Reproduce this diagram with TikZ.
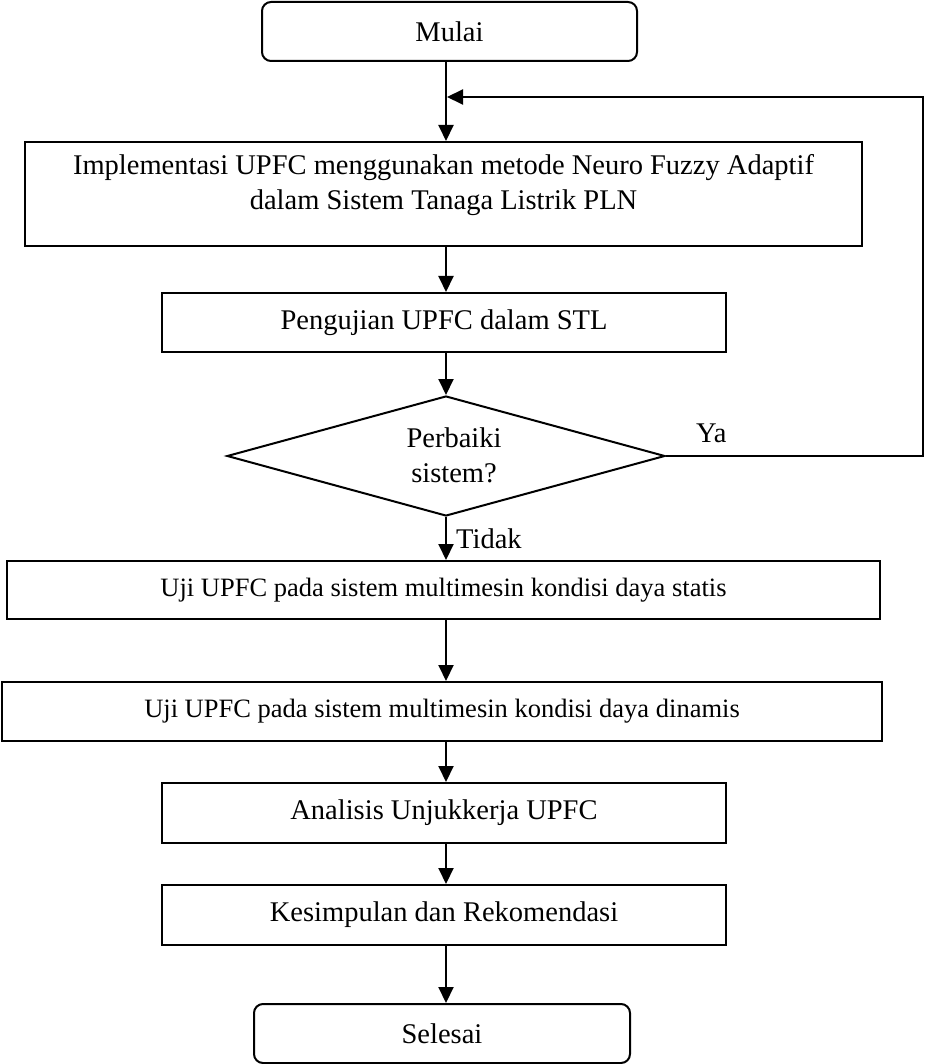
\documentclass[tikz,border=0pt]{standalone}
\usepackage{fontspec}
\setmainfont{Liberation Serif}
\usetikzlibrary{shapes.geometric,arrows.meta}
\newcommand\fsmain{\fontsize{28.5}{35}\selectfont}
\newcommand\fssmall{\fontsize{26.5}{32}\selectfont}
\tikzset{
  box/.style={draw, line width=2pt, inner sep=0pt, align=center, font=\fsmain},
  termbox/.style={box, rounded corners=9pt},
  decbox/.style={draw, line width=2pt, diamond, inner sep=0pt, aspect=3.65},
  arr/.style={line width=2pt, -{Triangle[length=16pt,width=15pt]}},
  lbl/.style={inner sep=0pt, font=\fsmain, anchor=base west},
}
\begin{document}
\begin{tikzpicture}[x=1pt,y=1pt]
\useasboundingbox (0,0) rectangle (925,-1064);
\fill[white] (0,0) rectangle (925,-1064);
\coordinate (spine) at (446,0);

\node[termbox, minimum width=375pt, minimum height=59pt] (mulai) at (449.5,-31.5) {Mulai};
\node[box, minimum width=837pt, minimum height=104pt] (impl) at (443.5,-194) {};
\node[inner sep=0pt, align=center, font=\fsmain] (impltxt) at ([yshift=9pt]impl.center)
  {Implementasi UPFC menggunakan metode Neuro Fuzzy Adaptif\\dalam Sistem Tanaga Listrik PLN};
\node[box, minimum width=564pt, minimum height=59pt] (uji) at (444,-322.5) {Pengujian UPFC dalam STL};
\node[decbox, minimum width=438pt, minimum height=120pt] (dec) at (446,-456) {};
\node[inner sep=0pt, align=center, font=\fsmain] (dectxt) at ([xshift=8pt,yshift=1pt]dec.center) {Perbaiki\\sistem?};
\node[box, font=\fssmall, minimum width=873pt, minimum height=58pt] (statis) at (443.5,-590) {Uji UPFC pada sistem multimesin kondisi daya statis};
\node[box, font=\fssmall, minimum width=880pt, minimum height=59pt] (dinamis) at (442,-711.5) {Uji UPFC pada sistem multimesin kondisi daya dinamis};
\node[box, minimum width=564pt, minimum height=60pt] (analisis) at (444,-813) {Analisis Unjukkerja UPFC};
\node[box, minimum width=564pt, minimum height=60pt] (kesimpulan) at (444,-915) {Kesimpulan dan Rekomendasi};
\node[termbox, minimum width=376pt, minimum height=59pt] (selesai) at (442,-1033.5) {Selesai};

\draw[arr] (mulai.south -| spine) -- (impl.north -| spine);
\draw[arr] (impl.south -| spine) -- (uji.north -| spine);
\draw[arr] (uji.south -| spine) -- (dec.north);
\draw[arr] (dec.south) -- (statis.north -| spine);
\draw[arr] (statis.south -| spine) -- (dinamis.north -| spine);
\draw[arr] (dinamis.south -| spine) -- (analisis.north -| spine);
\draw[arr] (analisis.south -| spine) -- (kesimpulan.north -| spine);
\draw[arr] (kesimpulan.south -| spine) -- (selesai.north -| spine);

\coordinate (fbR) at (923,-456);
\coordinate (fbJ) at (447,-97);
\draw[arr] (dec.east) -- (fbR) |- (fbJ);

\node[lbl] (ya) at (696,-442) {Ya};
\node[lbl] (tidak) at (456,-548) {Tidak};
\end{tikzpicture}
\end{document}
